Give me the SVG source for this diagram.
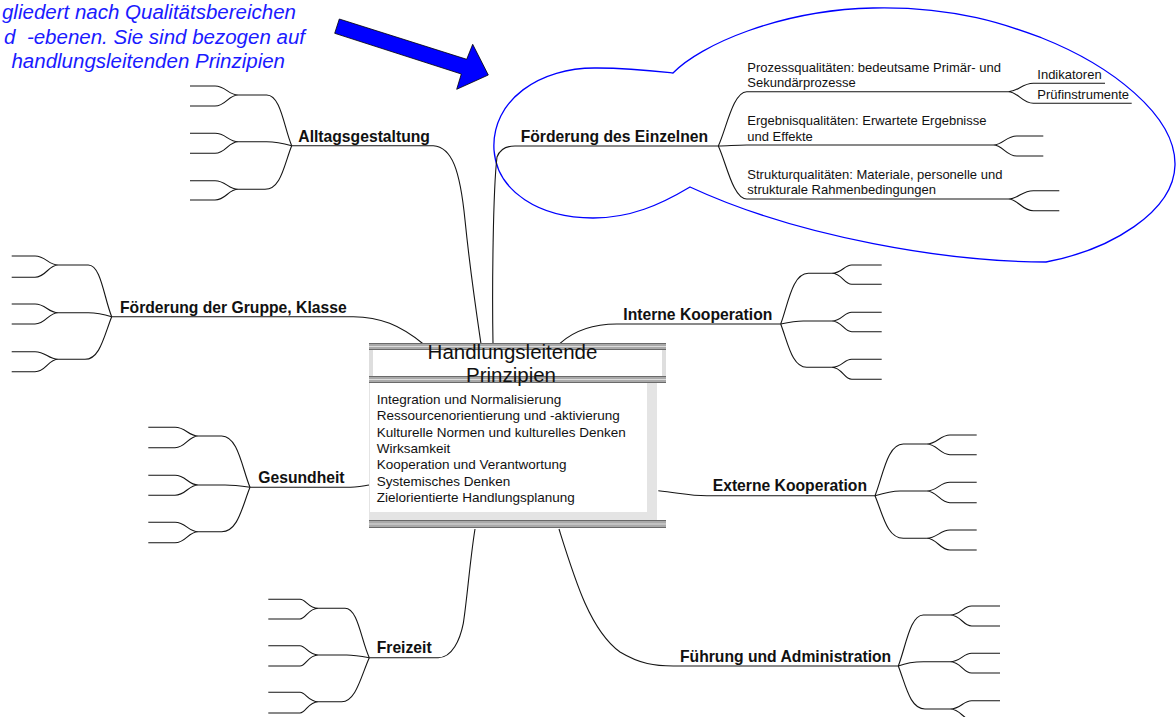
<svg xmlns="http://www.w3.org/2000/svg" width="1176" height="717" viewBox="0 0 1176 717">
<style>
.ln{fill:none;stroke:#151515;stroke-width:1.1}
.lbl{font-family:"Liberation Sans",Arial,sans-serif;font-weight:bold;font-size:15.7px;fill:#111}
.sub{font-family:"Liberation Sans",Arial,sans-serif;font-size:13px;fill:#111}
.ctr{font-family:"Liberation Sans",Arial,sans-serif;font-size:13.5px;fill:#111}
.ttl{font-family:"Liberation Sans",Arial,sans-serif;font-size:20.5px;fill:#111;text-anchor:middle}
.note{font-family:"Liberation Sans",Arial,sans-serif;font-style:italic;font-size:20.5px;fill:#1a1aff;text-anchor:end}
.band{fill:#a9a9a9}
.bl{stroke:#6a6a6a;stroke-width:1}
.bh{stroke:#dcdcdc;stroke-width:1}
</style>
<rect width="1176" height="717" fill="#fff"/>

<g id="annotation">
<text class="note" x="296" y="19">gliedert nach Qualitätsbereichen</text>
<text class="note" x="305" y="43.5" xml:space="preserve">d  -ebenen. Sie sind bezogen auf</text>
<text class="note" x="285" y="68">handlungsleitenden Prinzipien</text>
<polygon points="339.3,19 466.7,59.3 472.7,44.3 488.3,75 456.7,89.3 461.3,74 334.7,33.3" fill="#0000ff" stroke="#000" stroke-width="0.8"/>
<path d="M673,73 C700,45 780,10 873,8 C960,6 1015,28 1042,38 C1110,65 1176,115 1175,165 C1174,212 1110,250 1046,262 C950,262 800,238 690,187 C660,205 630,218 593,218 C540,218 497,192 494,150 C491,100 540,67 597,68 C630,68 655,71 673,73 Z" fill="none" stroke="#0000ff" stroke-width="1.3"/>
</g>

<g id="connectors">
<!-- Alltagsgestaltung -->
<path class="ln" d="M291.7,145.7 H433.3 C452,147 460,170 465,220 C470,270 476,310 481,344"/>
<path class="ln" d="M291.7,145.7 C284,128 281,95 266.7,95 H238.3 M238.3,95 C228,95 226,86 215,86 H190 M238.3,95 C228,95 226,106 215,106 H190"/>
<path class="ln" d="M291.7,145.7 C282,143 275,141.7 266.7,141.7 H238.3 M238.3,141.7 C228,141.7 226,133.3 215,133.3 H190 M238.3,141.7 C228,141.7 226,153.3 215,153.3 H190"/>
<path class="ln" d="M291.7,145.7 C284,165 281,189.3 265,189.3 H238.3 M238.3,189.3 C228,189.3 226,180.7 215,180.7 H190 M238.3,189.3 C228,189.3 226,200 215,200 H190"/>
<!-- Förderung der Gruppe -->
<path class="ln" d="M111.7,316.7 H353.3 C380,317 400,325 423.3,344"/>
<path class="ln" d="M111.7,316.7 C104,298 101,265 88.3,265 H58.3 M58.3,265 C48,265 46,256 35,256 H11.7 M58.3,265 C48,265 46,277.3 35,277.3 H11.7"/>
<path class="ln" d="M111.7,316.7 C103,314 96,312.7 88.3,312.7 H58.3 M58.3,312.7 C48,312.7 46,304 35,304 H11.7 M58.3,312.7 C48,312.7 46,324 35,324 H11.7"/>
<path class="ln" d="M111.7,316.7 C104,336 100,359.3 85,359.3 H58.3 M58.3,359.3 C48,359.3 46,351.7 35,351.7 H11.7 M58.3,359.3 C48,359.3 46,371.7 35,371.7 H11.7"/>
<!-- Gesundheit -->
<path class="ln" d="M250,487.3 H346.7 C356,487.3 362,486 369.3,485"/>
<path class="ln" d="M250,487.3 C242,468 238,436 221.7,436 H198.3 M198.3,436 C188,436 186,427.3 175,427.3 H148.3 M198.3,436 C188,436 186,447.7 175,447.7 H148.3"/>
<path class="ln" d="M250,487.3 C241,486 233,485 225,485 H198.3 M198.3,485 C188,485 186,475.3 175,475.3 H148.3 M198.3,485 C188,485 186,495.3 175,495.3 H148.3"/>
<path class="ln" d="M250,487.3 C242,507 238,531.7 221.7,531.7 H198.3 M198.3,531.7 C188,531.7 186,522.3 175,522.3 H148.3 M198.3,531.7 C188,531.7 186,542.7 175,542.7 H148.3"/>
<!-- Freizeit -->
<path class="ln" d="M369.3,657.7 H438.3 C452,657.7 460,640 463.3,623.3 C467,600 470,560 475,529"/>
<path class="ln" d="M369.3,657.7 C361,640 358,608.3 345,608.3 H318.3 M318.3,608.3 C308,608.3 306,599.3 300,599.3 H268.3 M318.3,608.3 C308,608.3 306,619 300,619 H268.3"/>
<path class="ln" d="M369.3,657.7 C360,656 353,655 346.7,655 H318.3 M318.3,655 C308,655 306,645.7 300,645.7 H268.3 M318.3,655 C308,655 306,666 300,666 H268.3"/>
<path class="ln" d="M369.3,657.7 C361,676 356,701.7 341.7,701.7 H318.3 M318.3,701.7 C308,701.7 306,692.3 300,692.3 H268.3 M318.3,701.7 C308,701.7 306,713 300,713 H268.3"/>
<!-- Interne Kooperation -->
<path class="ln" d="M560,343.3 C575,330 595,324 616.7,324 H780.7"/>
<path class="ln" d="M780.7,324 C788,305 792,273.3 808.3,273.3 H831.7 M831.7,273.3 C842,273.3 844,265 851.7,265 H881.7 M831.7,273.3 C842,273.3 844,284.3 851.7,284.3 H881.7"/>
<path class="ln" d="M780.7,324 C790,322 796,321 803.3,321 H831.7 M831.7,321 C842,321 844,312.3 851.7,312.3 H881.7 M831.7,321 C842,321 844,331.7 851.7,331.7 H881.7"/>
<path class="ln" d="M780.7,324 C788,343 792,367.3 806.7,367.3 H831.7 M831.7,367.3 C842,367.3 844,359.3 851.7,359.3 H881.7 M831.7,367.3 C842,367.3 844,379.3 851.7,379.3 H881.7"/>
<!-- Externe Kooperation -->
<path class="ln" d="M658.3,490.7 C680,493 690,495.7 706.7,495.7 H875"/>
<path class="ln" d="M875,495.7 C883,476 887,444 903.3,444 H926.7 M926.7,444 C937,444 940,435 950,435 H976.7 M926.7,444 C937,444 940,454.7 950,454.7 H976.7"/>
<path class="ln" d="M875,495.7 C884,493 892,491 900,491 H926.7 M926.7,491 C937,491 940,482.3 950,482.3 H976.7 M926.7,491 C937,491 940,502.7 950,502.7 H976.7"/>
<path class="ln" d="M875,495.7 C883,515 887,538.3 903.3,538.3 H926.7 M926.7,538.3 C937,538.3 940,530 950,530 H976.7 M926.7,538.3 C937,538.3 940,550 950,550 H976.7"/>
<!-- Führung und Administration -->
<path class="ln" d="M559,529 C575,580 590,630 620,652 C640,664 655,666 673.3,666 H898.3"/>
<path class="ln" d="M898.3,666 C906,646 910,615 923.3,615 H950 M950,615 C961,615 963,606 971.7,606 H1000 M950,615 C961,615 963,626 971.7,626 H1000"/>
<path class="ln" d="M898.3,666 C906,663 915,661.7 923.3,661.7 H950 M950,661.7 C961,661.7 963,653.3 971.7,653.3 H1000 M950,661.7 C961,661.7 963,673 971.7,673 H1000"/>
<path class="ln" d="M898.3,666 C906,686 910,709 925,709 H950 M950,709 C961,709 963,700.7 971.7,700.7 H1000 M950,709 C961,709 963,720 971.7,720 H1000"/>
<!-- Förderung des Einzelnen -->
<path class="ln" d="M493,344 C492,290 493,190 497,157 C500,149 506,146 515,146 H718.3"/>
<path class="ln" d="M718.3,146 C726,130 733,91.7 746.7,91.7 H1008.3 M1008.3,91.7 C1018,91.7 1022,83.3 1033.3,83.3 H1105 M1008.3,91.7 C1018,91.7 1022,103.3 1033.3,103.3 H1131.7"/>
<path class="ln" d="M718.3,146 C728,146 735,145 746.7,145 H993.3 M993.3,145 C1003,145 1006,136 1016.7,136 H1043.3 M993.3,145 C1003,145 1006,156 1016.7,156 H1043.3"/>
<path class="ln" d="M718.3,146 C726,162 733,199 746.7,199 H1008.3 M1008.3,199 C1018,199 1022,190.7 1033.3,190.7 H1059.3 M1008.3,199 C1018,199 1022,210.7 1033.3,210.7 H1059.3"/>
</g>

<g id="center">
<rect x="369" y="343" width="297" height="7" class="band"/>
<line x1="369" y1="343.5" x2="666" y2="343.5" class="bl"/>
<line x1="369" y1="346.5" x2="666" y2="346.5" class="bh"/>
<line x1="369" y1="349.5" x2="666" y2="349.5" class="bl"/>
<rect x="369" y="350" width="297" height="26" fill="#fff"/>
<rect x="369" y="350" width="4" height="26" fill="#dedede"/>
<rect x="662" y="350" width="4" height="26" fill="#dedede"/>
<rect x="369" y="376" width="297" height="7" class="band"/>
<line x1="369" y1="376.5" x2="666" y2="376.5" class="bl"/>
<line x1="369" y1="379.5" x2="666" y2="379.5" class="bh"/>
<line x1="369" y1="382.5" x2="666" y2="382.5" class="bl"/>
<rect x="369" y="383" width="288" height="137" fill="#e4e4e4"/>
<rect x="370" y="383" width="277" height="129" fill="#fff"/>
<rect x="369" y="520" width="297" height="8" class="band"/>
<line x1="369" y1="520.5" x2="666" y2="520.5" class="bl"/>
<line x1="369" y1="524" x2="666" y2="524" class="bh"/>
<line x1="369" y1="527.5" x2="666" y2="527.5" class="bl"/>
<text class="ttl" x="512.5" y="358.5">Handlungsleitende</text>
<text class="ttl" x="511" y="381.5">Prinzipien</text>
<text class="ctr" x="376.7" y="404">Integration und Normalisierung</text>
<text class="ctr" x="376.7" y="420.3">Ressourcenorientierung und -aktivierung</text>
<text class="ctr" x="376.7" y="436.6">Kulturelle Normen und kulturelles Denken</text>
<text class="ctr" x="376.7" y="452.9">Wirksamkeit</text>
<text class="ctr" x="376.7" y="469.2">Kooperation und Verantwortung</text>
<text class="ctr" x="376.7" y="485.5">Systemisches Denken</text>
<text class="ctr" x="376.7" y="501.8">Zielorientierte Handlungsplanung</text>
</g>

<g id="n-alltag"><text class="lbl" x="298.3" y="141.7">Alltagsgestaltung</text></g>
<g id="n-gruppe"><text class="lbl" x="120" y="312.7">Förderung der Gruppe, Klasse</text></g>
<g id="n-gesundheit"><text class="lbl" x="258.3" y="482.7">Gesundheit</text></g>
<g id="n-freizeit"><text class="lbl" x="376.7" y="653.3">Freizeit</text></g>
<g id="n-intern"><text class="lbl" x="623.3" y="320">Interne Kooperation</text></g>
<g id="n-extern"><text class="lbl" x="712.7" y="490.7">Externe Kooperation</text></g>
<g id="n-fuehrung"><text class="lbl" x="680" y="661.7">Führung und Administration</text></g>
<g id="n-einzeln">
<text class="lbl" x="520.7" y="141.7">Förderung des Einzelnen</text>
</g>
<g id="n-prozess">
<text class="sub" x="747.3" y="71.7">Prozessqualitäten: bedeutsame Primär- und</text>
<text class="sub" x="747.3" y="87.3">Sekundärprozesse</text>
</g>
<g id="n-indikatoren"><text class="sub" x="1037.3" y="79.3">Indikatoren</text></g>
<g id="n-pruef"><text class="sub" x="1037.3" y="99.3">Prüfinstrumente</text></g>
<g id="n-ergebnis">
<text class="sub" x="747.3" y="125">Ergebnisqualitäten: Erwartete Ergebnisse</text>
<text class="sub" x="747.3" y="140.7">und Effekte</text>
</g>
<g id="n-struktur">
<text class="sub" x="747.3" y="179">Strukturqualitäten: Materiale, personelle und</text>
<text class="sub" x="747.3" y="194.3">strukturale Rahmenbedingungen</text>
</g>
</svg>
